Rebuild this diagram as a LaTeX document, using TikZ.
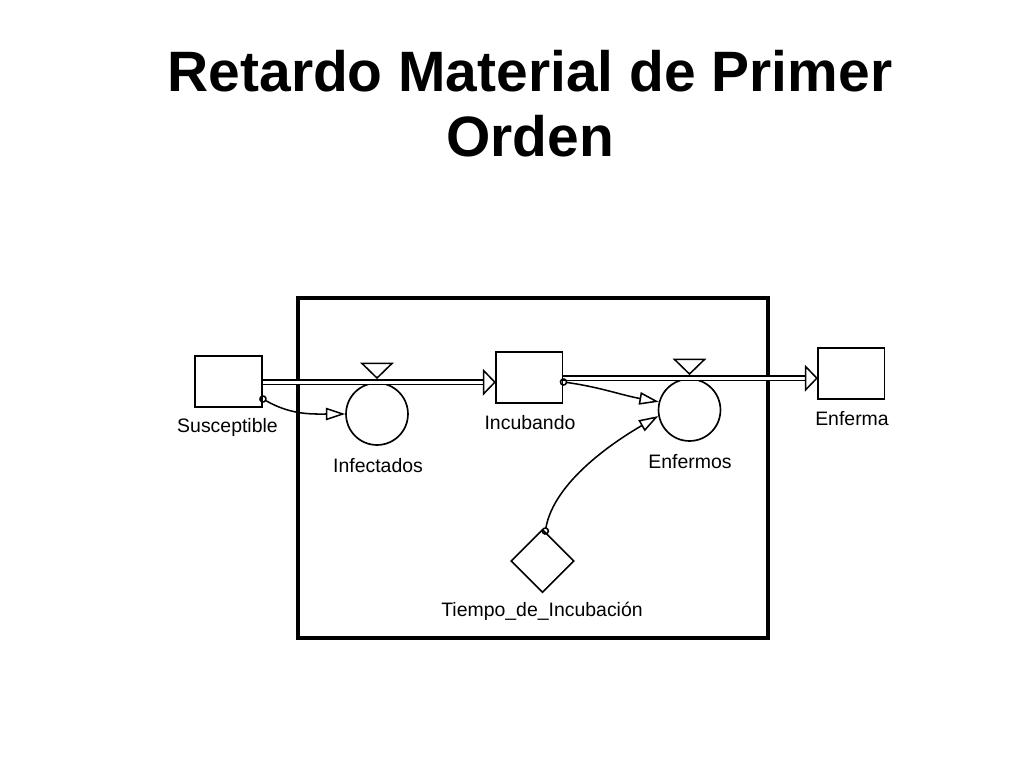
\documentclass[tikz,border=0pt]{standalone}
\usepackage{fontspec}
\setmainfont{Liberation Sans}
\usetikzlibrary{arrows.meta,shapes.geometric}

\tikzset{
  stock/.style={draw,line width=1.2pt,minimum width=48pt,minimum height=36.7pt,inner sep=0pt},
  rate/.style={draw,circle,line width=1.2pt,minimum size=44.6pt,inner sep=0pt},
  aux/.style={draw,diamond,line width=1.2pt,minimum width=45.5pt,minimum height=45.5pt,inner sep=0pt},
  tag/.style={anchor=base,inner sep=0pt,font=\fontsize{14}{16}\selectfont},
  pipe/.style={line width=1.1pt,double distance=1.9pt,shorten >=7.5pt},
  link/.style={line width=1.1pt,shorten <=-2.5pt,{Circle[open,length=5.5pt]}-{Triangle[open,length=14pt,width=9pt]}}
}

\begin{document}
\begin{tikzpicture}[x=0.72pt,y=0.72pt]

  \useasboundingbox (0,0) rectangle (1024,-768);

  % Title
  \node[anchor=base,font=\bfseries\fontsize{41}{47}\selectfont] (title1) at (530,-91) {Retardo Material de Primer};
  \node[anchor=base,font=\bfseries\fontsize{41}{47}\selectfont] (title2) at (530,-156) {Orden};

  % Draw the model boundary
  \draw[line width=2.4pt] (298,-298) rectangle (768,-638);

  % Draw the stocks, rates and auxiliary
  \node[stock] (susc) at (228.5,-381.5) {};
  \node[stock] (incub) at (529,-377.5) {};
  \node[stock] (enferma) at (851,-373.5) {};
  \node[rate] (infect) at (377,-414) {};
  \node[rate] (enfermos) at (689.5,-410) {};
  \node[aux] (tiempo) at (542.5,-561) {};

  % Labels
  \node[tag] (susc-l) at (227.5,-432) {Susceptible};
  \node[tag] (incub-l) at (530,-429) {Incubando};
  \node[tag] (enferma-l) at (852,-425) {Enferma};
  \node[tag] (infect-l) at (378,-472) {Infectados};
  \node[tag] (enfermos-l) at (690,-468) {Enfermos};
  \node[tag] (tiempo-l) at (542,-616) {Tiempo\_de\_Incubación};

  % Draw the flows
  \draw[pipe] (susc.east |- infect.north) -- (incub.west |- infect.north);
  \draw[line width=1.1pt,fill=white] (incub.west |- infect.north) -- ++(-8pt,8.3pt) -- ++(0,-16.6pt) -- cycle;
  \draw[pipe] (incub.east |- enfermos.north) -- (enferma.west |- enfermos.north);
  \draw[line width=1.1pt,fill=white] (enferma.west |- enfermos.north) -- ++(-8pt,8.3pt) -- ++(0,-16.6pt) -- cycle;

  % Draw the valves
  \draw[line width=1.1pt] ([yshift=3pt]infect.north) -- ++(-10.8pt,10.5pt) -- ++(21.6pt,0) -- cycle;
  \draw[line width=1.1pt] ([yshift=3pt]enfermos.north) -- ++(-10.8pt,10.5pt) -- ++(21.6pt,0) -- cycle;

  % Draw the information links
  \draw[link] ([yshift=6.5pt]susc.south east) to[out=-30,in=180] (infect.west);
  \draw[link] ([yshift=-3.2pt]incub.east) to[out=-8,in=170] (enfermos.165);
  \draw[link] ([xshift=2pt,yshift=-2pt]tiempo.north) to[out=80,in=210,looseness=0.8] (enfermos.191);

\end{tikzpicture}
\end{document}
